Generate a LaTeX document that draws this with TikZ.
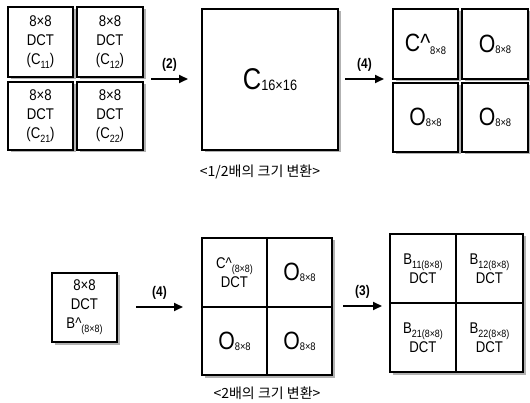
\documentclass[tikz,border=0pt]{standalone}
\usepackage{fontspec}
\setmainfont{Liberation Sans}[FakeStretch=0.85]
\newfontfamily\krfont{Noto Sans CJK KR}
\usetikzlibrary{arrows.meta}
\newcommand{\sbs}[1]{\raisebox{-0.25em}{\fontsize{10.5}{11}\selectfont #1}}
\newcommand{\bigO}{{\fontsize{25}{26}\selectfont O}\raisebox{-0.05em}{\fontsize{11}{12}\selectfont 8×8}}
\tikzset{
  x=1pt,y=-1pt,
  cell/.style={draw,line width=1.4pt,inner sep=0pt,align=center,font=\fontsize{15.5}{19}\selectfont,
    fill=white},
  shadowed/.style={draw,line width=1.4pt,fill=white,
    preaction={fill=black!30,draw=none,transform canvas={xshift=2.5pt,yshift=-2.5pt}}},
  flow/.style={line width=2pt,-{Triangle[length=9pt,width=8pt]}},
  lbl/.style={font=\fontsize{14}{16}\selectfont\bfseries},
  captext/.style={font=\krfont\fontsize{14}{16}\selectfont},
}
\begin{document}
\begin{tikzpicture}
\useasboundingbox (0,0) rectangle (530,403);
% ---- top left: four 8x8 DCT blocks
\node[cell,shadowed,minimum width=65pt,minimum height=70pt] (c11) at (40.5,42) {8×8\\DCT\\(C\sbs{11})};
\node[cell,shadowed,minimum width=66pt,minimum height=70pt] (c12) at (110,42) {8×8\\DCT\\(C\sbs{12})};
\node[cell,shadowed,minimum width=65pt,minimum height=68pt] (c21) at (40.5,116) {8×8\\DCT\\(C\sbs{21})};
\node[cell,shadowed,minimum width=66pt,minimum height=68pt] (c22) at (110,116) {8×8\\DCT\\(C\sbs{22})};
% ---- big C16x16
\node[cell,shadowed,minimum width=136pt,minimum height=141pt] (c16) at (270,79.5)
  {{\fontsize{30}{32}\selectfont C}\raisebox{-0.05em}{\fontsize{15}{16}\selectfont 16×16}};
\node[captext] (cap1) at (260,172) {<1/2배의 크기 변환>};
% ---- top right
\node[cell,shadowed,minimum width=65pt,minimum height=70pt] (h11) at (425.5,44)
  {{\fontsize{25}{26}\selectfont C\^{}}\raisebox{-0.2em}{\fontsize{11}{12}\selectfont 8×8}};
\node[cell,shadowed,minimum width=66pt,minimum height=70pt] (o12) at (495,44) {\bigO};
\node[cell,shadowed,minimum width=65pt,minimum height=69pt] (o21) at (425.5,117.5) {\bigO};
\node[cell,shadowed,minimum width=66pt,minimum height=69pt] (o22) at (495,117.5) {\bigO};
% ---- top arrows
\coordinate (a2s) at (151,79);
\coordinate (a2e) at (188,79);
\draw[flow] (a2s) -- (a2e) node[lbl,midway,above=3pt] (l2) {(2)};
\coordinate (a4s) at (345,79);
\coordinate (a4e) at (384,79);
\draw[flow] (a4s) -- (a4e) node[lbl,midway,above=3pt] (l4) {(4)};
% ---- bottom small block
\node[cell,shadowed,minimum width=65pt,minimum height=69pt] (bh) at (84.5,307.5)
  {8×8\\DCT\\B\^{}\sbs{(8×8)}};
\coordinate (b4s) at (136,307);
\coordinate (b4e) at (183,307);
\draw[flow] (b4s) -- (b4e) node[lbl,midway,above=3pt] (lb4) {(4)};
% ---- bottom middle 2x2 block
\fill[black!30] (204.5,240.5) rectangle (334.5,377.5);
\node[cell,minimum width=65pt,minimum height=69pt] (m11) at (234.5,272.5)
  {C\^{}\sbs{(8×8)}\\DCT};
\node[cell,minimum width=65pt,minimum height=69pt] (m12) at (299.5,272.5) {\bigO};
\node[cell,minimum width=65pt,minimum height=68pt] (m21) at (234.5,341) {\bigO};
\node[cell,minimum width=65pt,minimum height=68pt] (m22) at (299.5,341) {\bigO};
\node[captext] (cap2) at (267,393) {<2배의 크기 변환>};
\coordinate (b3s) at (343,306);
\coordinate (b3e) at (382,306);
\draw[flow] (b3s) -- (b3e) node[lbl,midway,above=3pt] (l3) {(3)};
% ---- bottom right 2x2 block
\fill[black!30] (392.5,236.5) rectangle (525.5,374.5);
\node[cell,minimum width=66pt,minimum height=69pt] (b11) at (423,268.5)
  {B\sbs{11(8×8)}\\DCT};
\node[cell,minimum width=67pt,minimum height=69pt] (b12) at (489.5,268.5)
  {B\sbs{12(8×8)}\\DCT};
\node[cell,minimum width=66pt,minimum height=69pt] (b21) at (423,337.5)
  {B\sbs{21(8×8)}\\DCT};
\node[cell,minimum width=67pt,minimum height=69pt] (b22) at (489.5,337.5)
  {B\sbs{22(8×8)}\\DCT};
\end{tikzpicture}
\end{document}
